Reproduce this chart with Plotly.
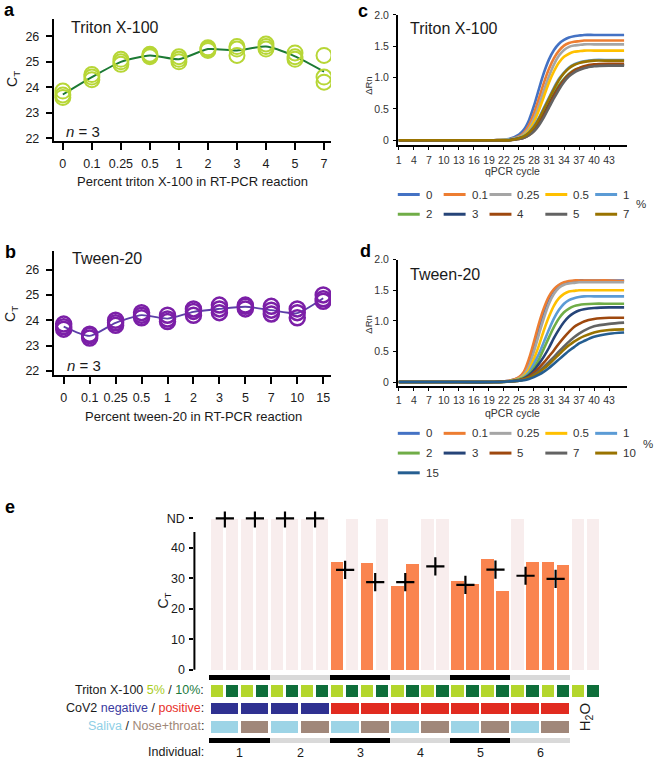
import plotly.graph_objects as go

W, H = 657, 765
FONT = "Liberation Sans, Arial, Helvetica, sans-serif"
INK = "#1a1a1a"


def fx(p):
    return p / W


def fy(p):
    return 1 - p / H


# ---------------- Panel a : Triton X-100 titration (Ct, n = 3) ----------------
triton_pct = ["0", "0.1", "0.25", "0.5", "1", "2", "3", "4", "5", "7"]
triton_ct = [
    [23.85, 23.70, 23.60], [24.50, 24.40, 24.30], [25.10, 25.00, 24.90],
    [25.30, 25.25, 25.20], [25.20, 25.10, 25.00], [25.55, 25.50, 25.45],
    [25.60, 25.50, 25.25], [25.70, 25.60, 25.50], [25.35, 25.20, 25.10],
    [25.25, 24.40, 24.20],
]

# ---------------- Panel b : Tween-20 titration (Ct, n = 3) ----------------
tween_pct = ["0", "0.1", "0.25", "0.5", "1", "2", "3", "5", "7", "10", "15"]
tween_ct = [
    [23.85, 23.75, 23.65], [23.45, 23.40, 23.30], [24.00, 23.90, 23.80],
    [24.30, 24.20, 24.10], [24.20, 24.05, 23.95], [24.45, 24.35, 24.20],
    [24.60, 24.45, 24.30], [24.60, 24.55, 24.45], [24.55, 24.40, 24.25],
    [24.45, 24.30, 24.10], [25.00, 24.85, 24.75],
]

# ---------------- Panels c / d : amplification curves (delta Rn) ----------------
cycles = [1, 10, 20, 23, 25, 26, 27, 28, 29, 30, 31, 32, 33, 34, 35, 36, 37, 38, 40, 43, 46]
cycle_ticks = [1, 4, 7, 10, 13, 16, 19, 22, 25, 28, 31, 34, 37, 40, 43]

triton_curve_labels = ["0", "0.1", "0.25", "0.5", "1", "2", "3", "4", "5", "7"]
triton_curve_colors = ["#4472C4", "#ED7D31", "#A5A5A5", "#FFC000", "#5B9BD5",
                       "#70AD47", "#264478", "#9E480E", "#636363", "#997300"]
triton_rn = [
    [0, 0, 0, 0.02, 0.09, 0.17, 0.32, 0.55, 0.82, 1.08, 1.29, 1.44, 1.54, 1.60, 1.64, 1.66, 1.67, 1.68, 1.68, 1.68, 1.68],
    [0, 0, 0, 0.01, 0.06, 0.12, 0.24, 0.43, 0.67, 0.92, 1.14, 1.31, 1.43, 1.51, 1.55, 1.57, 1.58, 1.59, 1.59, 1.59, 1.59],
    [0, 0, 0, 0.01, 0.05, 0.10, 0.19, 0.35, 0.56, 0.80, 1.02, 1.21, 1.35, 1.44, 1.49, 1.51, 1.52, 1.53, 1.53, 1.53, 1.53],
    [0, 0, 0, 0.01, 0.04, 0.08, 0.16, 0.29, 0.48, 0.70, 0.92, 1.10, 1.24, 1.33, 1.38, 1.41, 1.42, 1.43, 1.43, 1.43, 1.43],
    [0, 0, 0, 0.01, 0.04, 0.07, 0.13, 0.23, 0.36, 0.52, 0.68, 0.84, 0.98, 1.08, 1.16, 1.21, 1.24, 1.26, 1.28, 1.28, 1.28],
    [0, 0, 0, 0.00, 0.03, 0.06, 0.11, 0.19, 0.31, 0.45, 0.60, 0.75, 0.88, 0.98, 1.06, 1.12, 1.15, 1.17, 1.19, 1.20, 1.20],
    [0, 0, 0, 0.00, 0.03, 0.05, 0.10, 0.17, 0.28, 0.42, 0.57, 0.72, 0.85, 0.96, 1.04, 1.10, 1.14, 1.16, 1.19, 1.20, 1.20],
    [0, 0, 0, 0.00, 0.02, 0.04, 0.08, 0.15, 0.26, 0.40, 0.55, 0.71, 0.85, 0.96, 1.05, 1.11, 1.15, 1.18, 1.21, 1.22, 1.22],
    [0, 0, 0, 0.00, 0.02, 0.04, 0.08, 0.14, 0.24, 0.37, 0.52, 0.67, 0.81, 0.93, 1.02, 1.08, 1.12, 1.15, 1.18, 1.19, 1.19],
    [0, 0, 0, 0.00, 0.03, 0.06, 0.12, 0.21, 0.34, 0.50, 0.66, 0.82, 0.96, 1.07, 1.15, 1.20, 1.23, 1.25, 1.27, 1.27, 1.27],
]

tween_curve_labels = ["0", "0.1", "0.25", "0.5", "1", "2", "3", "5", "7", "10", "15"]
tween_curve_colors = ["#4472C4", "#ED7D31", "#A5A5A5", "#FFC000", "#5B9BD5",
                      "#70AD47", "#264478", "#9E480E", "#636363", "#997300", "#255E91"]
tween_rn = [
    [0, 0, 0, 0.02, 0.07, 0.15, 0.33, 0.60, 0.90, 1.16, 1.37, 1.50, 1.58, 1.62, 1.64, 1.65, 1.66, 1.66, 1.66, 1.66, 1.66],
    [0, 0, 0, 0.02, 0.08, 0.17, 0.38, 0.66, 0.96, 1.21, 1.40, 1.52, 1.59, 1.63, 1.65, 1.66, 1.66, 1.66, 1.66, 1.66, 1.65],
    [0, 0, 0, 0.01, 0.06, 0.12, 0.26, 0.50, 0.78, 1.05, 1.28, 1.44, 1.54, 1.59, 1.61, 1.62, 1.63, 1.63, 1.63, 1.63, 1.63],
    [0, 0, 0, 0.01, 0.05, 0.10, 0.20, 0.38, 0.60, 0.85, 1.07, 1.25, 1.37, 1.44, 1.48, 1.49, 1.50, 1.50, 1.50, 1.50, 1.50],
    [0, 0, 0, 0.01, 0.04, 0.08, 0.16, 0.30, 0.46, 0.66, 0.86, 1.04, 1.18, 1.28, 1.34, 1.37, 1.39, 1.40, 1.40, 1.40, 1.40],
    [0, 0, 0, 0.01, 0.04, 0.07, 0.13, 0.23, 0.37, 0.55, 0.73, 0.90, 1.04, 1.14, 1.20, 1.24, 1.26, 1.27, 1.28, 1.28, 1.28],
    [0, 0, 0, 0.01, 0.03, 0.06, 0.11, 0.19, 0.30, 0.42, 0.56, 0.72, 0.86, 0.98, 1.07, 1.13, 1.17, 1.19, 1.21, 1.22, 1.22],
    [0, 0, 0, 0.01, 0.03, 0.05, 0.09, 0.15, 0.23, 0.32, 0.42, 0.52, 0.63, 0.73, 0.82, 0.90, 0.95, 0.99, 1.03, 1.05, 1.05],
    [0, 0, 0, 0.01, 0.02, 0.04, 0.07, 0.12, 0.18, 0.25, 0.33, 0.41, 0.50, 0.58, 0.66, 0.73, 0.79, 0.84, 0.91, 0.95, 0.97],
    [0, 0, 0, 0.01, 0.02, 0.04, 0.07, 0.11, 0.16, 0.22, 0.29, 0.37, 0.45, 0.53, 0.60, 0.66, 0.71, 0.75, 0.81, 0.85, 0.86],
    [0, 0, 0, 0.01, 0.02, 0.03, 0.05, 0.08, 0.12, 0.17, 0.23, 0.30, 0.37, 0.44, 0.51, 0.57, 0.63, 0.67, 0.74, 0.79, 0.81],
]

# ---------------- Panel e : patient samples ----------------
ND = "ND"
ND_LEVEL = 49.8
sample_ct = [ND, ND, ND, ND, ND, ND, ND, ND,
             35.5, ND, 35.3, ND, 27.5, 35.0, ND, ND,
             29.3, 28.3, 36.5, 26.1, ND, 35.5, 35.4, 34.5,
             ND, ND]
sample_triton = ["5%", "10%"] * 13
pair_ct = [ND, ND, ND, ND, 32.8, 28.8, 28.8, 34.0, 27.9, 32.9, 30.9, 29.9]
pair_cov2 = ["negative"] * 4 + ["positive"] * 8
pair_type = ["Saliva", "Nose+throat"] * 6
individuals = ["1", "2", "3", "4", "5", "6"]

# colours
C_LIME, C_DKGREEN = "#b4d62c", "#0e6e3a"
C_NEG, C_POS = "#2f3191", "#e12b20"
C_SAL, C_NOSE = "#9dd4e6", "#a0877a"
C_ORANGE, C_PINK = "#fa844f", "#f8eded"

fig = go.Figure()

# ---- a
xa_pos = list(range(len(triton_pct)))
fig.add_trace(go.Scatter(
    x=xa_pos, y=[sum(v) / len(v) for v in triton_ct], mode="lines",
    line=dict(color="#1c7a34", width=2, shape="spline", smoothing=0.6),
    xaxis="x", yaxis="y", showlegend=False))
fig.add_trace(go.Scatter(
    x=[i for i, v in enumerate(triton_ct) for _ in v],
    y=[c for v in triton_ct for c in v], mode="markers",
    marker=dict(symbol="circle-open", size=15, color="#b7d636", line=dict(width=2)),
    xaxis="x", yaxis="y", showlegend=False))

# ---- b
xb_pos = list(range(len(tween_pct)))
fig.add_trace(go.Scatter(
    x=xb_pos, y=[sum(v) / len(v) for v in tween_ct], mode="lines",
    line=dict(color="#5c3fa8", width=1.8, shape="spline", smoothing=0.6),
    xaxis="x2", yaxis="y2", showlegend=False))
fig.add_trace(go.Scatter(
    x=[i for i, v in enumerate(tween_ct) for _ in v],
    y=[c for v in tween_ct for c in v], mode="markers",
    marker=dict(symbol="circle-open", size=15, color="#7b1fa7", line=dict(width=2.5)),
    xaxis="x2", yaxis="y2", showlegend=False))

# ---- c
for lab, col, vals in zip(triton_curve_labels, triton_curve_colors, triton_rn):
    fig.add_trace(go.Scatter(
        x=cycles, y=vals, mode="lines", name=lab,
        line=dict(color=col, width=2.6, shape="spline", smoothing=0.8),
        xaxis="x3", yaxis="y3", showlegend=False))

# ---- d
for lab, col, vals in zip(tween_curve_labels, tween_curve_colors, tween_rn):
    fig.add_trace(go.Scatter(
        x=cycles, y=vals, mode="lines", name=lab,
        line=dict(color=col, width=2.6, shape="spline", smoothing=0.8),
        xaxis="x4", yaxis="y4", showlegend=False))

# ---- e
cols = list(range(1, len(sample_ct) + 1))
fig.add_trace(go.Bar(
    x=cols, y=[ND_LEVEL if v == ND else v for v in sample_ct], width=0.82,
    marker=dict(color=[C_PINK if v == ND else C_ORANGE for v in sample_ct], line=dict(width=0)),
    xaxis="x5", yaxis="y5", showlegend=False))
pairs_x = [2 * k + 1.5 for k in range(len(pair_ct))]
fig.add_trace(go.Scatter(
    x=pairs_x, y=[ND_LEVEL if v == ND else v for v in pair_ct], mode="markers",
    marker=dict(symbol="cross-thin", size=13, color="black", line=dict(width=2.2, color="black")),
    xaxis="x5", yaxis="y5", showlegend=False))
# indicator rows
fig.add_trace(go.Bar(
    x=cols, y=[3.9] * len(cols), base=-8.9, width=0.82,
    marker=dict(color=[C_LIME if t == "5%" else C_DKGREEN for t in sample_triton], line=dict(width=0)),
    xaxis="x5", yaxis="y5", showlegend=False))
fig.add_trace(go.Bar(
    x=pairs_x, y=[3.9] * len(pairs_x), base=-14.6, width=1.85,
    marker=dict(color=[C_NEG if c == "negative" else C_POS for c in pair_cov2], line=dict(width=0)),
    xaxis="x5", yaxis="y5", showlegend=False))
fig.add_trace(go.Bar(
    x=pairs_x, y=[3.9] * len(pairs_x), base=-20.6, width=1.85,
    marker=dict(color=[C_SAL if t == "Saliva" else C_NOSE for t in pair_type], line=dict(width=0)),
    xaxis="x5", yaxis="y5", showlegend=False))
ind_x = [4 * k + 2.5 for k in range(len(individuals))]
band_cols = ["#000000" if k % 2 == 0 else "#d9d9d9" for k in range(len(individuals))]
for base in (-3.1, -23.9):
    fig.add_trace(go.Bar(
        x=ind_x, y=[1.6] * len(ind_x), base=base, width=4,
        marker=dict(color=band_cols, line=dict(width=0)),
        xaxis="x5", yaxis="y5", showlegend=False))

# ---------------- axes ----------------
tick_font = dict(family=FONT, size=12.5, color=INK)
small_font = dict(family=FONT, size=10.5, color="#333")
common = dict(showgrid=False, zeroline=False, linecolor="black", tickcolor="black")

layout_axes = dict(
    xaxis=dict(domain=[fx(52), fx(330)], anchor="y", range=[-0.31, 9.24],
               tickvals=xa_pos, ticktext=triton_pct, ticks="outside", ticklen=7, tickwidth=2,
               showline=True, linewidth=2, tickfont=tick_font, ticklabelstandoff=3, **common),
    yaxis=dict(domain=[fy(137), fy(13)], anchor="x", range=[21.88, 26.69],
               tickvals=[22, 23, 24, 25, 26], ticks="outside", ticklen=6, tickwidth=2,
               showline=True, linewidth=2, tickfont=tick_font, ticklabelstandoff=4, **common),
    xaxis2=dict(domain=[fx(52), fx(330)], anchor="y2", range=[-0.38, 10.3],
                tickvals=xb_pos, ticktext=tween_pct, ticks="outside", ticklen=7, tickwidth=2,
                showline=True, linewidth=2, tickfont=tick_font, ticklabelstandoff=3, **common),
    yaxis2=dict(domain=[fy(374), fy(248)], anchor="x2", range=[21.84, 26.74],
                tickvals=[22, 23, 24, 25, 26], ticks="outside", ticklen=6, tickwidth=2,
                showline=True, linewidth=2, tickfont=tick_font, ticklabelstandoff=4, **common),
    xaxis3=dict(domain=[fx(397), fx(627)], anchor="y3", range=[0.8, 46.6],
                tickvals=cycle_ticks, ticks="outside", ticklen=3, tickwidth=1,
                showline=True, linewidth=1.5, tickfont=small_font, ticklabelstandoff=1, **common),
    yaxis3=dict(domain=[fy(141), fy(9)], anchor="x3", range=[-0.079, 2.0],
                tickvals=[0, 0.5, 1.0, 1.5, 2.0], ticktext=["0", "0.5", "1.0", "1.5", "2.0"],
                ticks="outside", ticklen=3, tickwidth=1,
                showline=True, linewidth=1.5, tickfont=small_font, ticklabelstandoff=2, **common),
    xaxis4=dict(domain=[fx(397), fx(627)], anchor="y4", range=[0.8, 46.6],
                tickvals=cycle_ticks, ticks="outside", ticklen=3, tickwidth=1,
                showline=True, linewidth=1.5, tickfont=small_font, ticklabelstandoff=1, **common),
    yaxis4=dict(domain=[fy(385), fy(257)], anchor="x4", range=[-0.0645, 2.0],
                tickvals=[0, 0.5, 1.0, 1.5, 2.0], ticktext=["0", "0.5", "1.0", "1.5", "2.0"],
                ticks="outside", ticklen=3, tickwidth=1,
                showline=True, linewidth=1.5, tickfont=small_font, ticklabelstandoff=2, **common),
    xaxis5=dict(domain=[fx(193), fx(620)], anchor="y5", range=[-0.525, 27.79],
                showticklabels=False, showline=False, ticks="", **common),
    yaxis5=dict(domain=[fy(749.5), fy(512.3)], anchor="x5", range=[-25, 52],
                tickvals=[0, 10, 20, 30, 40, ND_LEVEL], ticktext=["0", "10", "20", "30", "40", "ND"],
                ticks="outside", ticklen=4, tickwidth=2, showline=False,
                tickfont=dict(family=FONT, size=12.5, color=INK), ticklabelstandoff=2, **common),
)

# ---------------- annotations ----------------
ann = []


def text(x, y, s, size=12.5, xanchor="center", yanchor="middle", angle=0, color=INK, xref="paper"):
    ann.append(dict(x=x if xref != "paper" else fx(x), y=fy(y), xref=xref, yref="paper", text=s,
                    showarrow=False, xanchor=xanchor, yanchor=yanchor, textangle=angle,
                    font=dict(family=FONT, size=size, color=color)))


# panel letters
for lab, x, y in [("a", 0, 4), ("b", 1, 249), ("c", 355, 5), ("d", 357, 248), ("e", 1, 508)]:
    text(x, y, "<b>%s</b>" % lab, size=18, xanchor="left", color="black")

# panel a / b
text(67, 22, "Triton X-100", size=16, xanchor="left")
text(62, 127, "<i>n</i> = 3", size=15, xanchor="left")
text(191, 178, "Percent triton X-100 in RT-PCR reaction", size=13)
text(11, 74, "C<sub>T</sub>", size=14, angle=-90)
text(68, 256, "Tween-20", size=16, xanchor="left")
text(63, 364, "<i>n</i> = 3", size=15, xanchor="left")
text(192, 416, "Percent tween-20 in RT-PCR reaction", size=13)
text(9, 312, "C<sub>T</sub>", size=14, angle=-90)

# panel c / d
text(407, 23, "Triton X-100", size=16, xanchor="left")
text(512, 167, "qPCR cycle", size=10.5, color="#333")
text(368, 80, "ΔRn", size=9.5, angle=-90, color="#333")
text(407, 272, "Tween-20", size=16, xanchor="left")
text(512, 412, "qPCR cycle", size=10.5, color="#333")
text(368, 322, "ΔRn", size=9.5, angle=-90, color="#333")

# manual legends for c / d
shapes = []
leg_cols = [397, 443, 489, 545, 595]


def legend(labels, colors, y0, pct_xy):
    for i, (lab, col) in enumerate(zip(labels, colors)):
        r, c = divmod(i, 5)
        y = y0 + r * 20
        x = leg_cols[c]
        shapes.append(dict(type="line", xref="paper", yref="paper", x0=fx(x), x1=fx(x + 22),
                           y0=fy(y), y1=fy(y), line=dict(color=col, width=3)))
        text(x + 26, y, lab, size=11.5, xanchor="left", color="#333")
    text(pct_xy[0], pct_xy[1], "%", size=11.5, color="#333")


legend(triton_curve_labels, triton_curve_colors, 191, (641, 201))
legend(tween_curve_labels, tween_curve_colors, 433, (648, 444))

# panel e
text(163, 603, "C<sub>T</sub>", size=14, angle=-90)
text(205, 693, 'Triton X-100 <span style="color:#a9cc22">5%</span> / '
               '<span style="color:#1a7a3e">10%</span>:', size=12.5, xanchor="right")
text(205, 711, 'CoV2 <span style="color:#3a3aa0">negative</span> / '
               '<span style="color:#e8302a">positive</span>:', size=12.5, xanchor="right")
text(205, 730, '<span style="color:#8fcfe6">Saliva</span> / '
               '<span style="color:#a08878">Nose+throat</span>:', size=12.5, xanchor="right")
text(205, 756, "Individual:", size=12.5, xanchor="right")
for xv, lab in zip(ind_x, individuals):
    text(xv, 757, lab, size=12.5, xref="x5")
text(25.5, 721, "H<sub>2</sub>O", size=15, angle=-90, xref="x5")

# y axis line of panel e (only over the Ct scale)
shapes.append(dict(type="line", xref="x5 domain", yref="y5", x0=0, x1=0, y0=0, y1=45.3,
                   line=dict(color="black", width=2)))

fig.update_layout(
    width=W, height=H, margin=dict(l=0, r=0, t=0, b=0),
    paper_bgcolor="white", plot_bgcolor="rgba(0,0,0,0)",
    barmode="overlay", bargap=0, showlegend=False,
    font=dict(family=FONT, color=INK),
    annotations=ann, shapes=shapes, **layout_axes)

fig.write_html("out.html", config={"displayModeBar": False},
               post_script="document.body.style.margin='0';")
